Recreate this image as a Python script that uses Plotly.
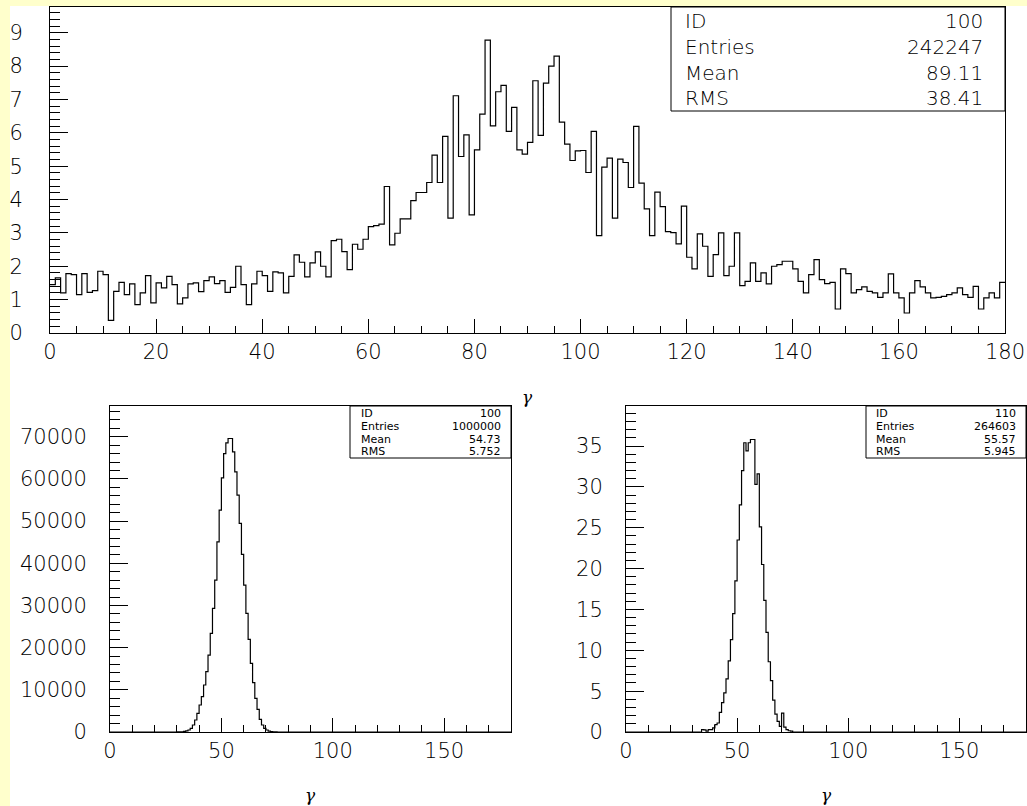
import numpy as np
import plotly.graph_objects as go

W, H = 1027, 806

# ---------------- data ----------------
# Top histogram (ID 100): 180 bins of width 1 on [0, 180]
top_values = [
    1.45, 1.65, 1.20, 1.78, 1.75, 1.15, 1.78, 1.22, 1.27, 1.85,
    1.75, 0.38, 1.25, 1.52, 1.15, 1.47, 0.85, 1.20, 1.72, 0.90,
    1.50, 1.35, 1.70, 1.45, 0.87, 1.05, 1.47, 1.50, 1.24, 1.57,
    1.68, 1.48, 1.57, 1.22, 1.37, 2.00, 1.45, 0.85, 1.47, 1.85,
    1.72, 1.25, 1.83, 1.80, 1.20, 1.70, 2.34, 2.12, 1.68, 2.10,
    2.43, 2.00, 1.68, 2.77, 2.81, 2.44, 1.90, 2.66, 2.51, 2.81,
    3.19, 3.22, 3.26, 4.39, 2.64, 2.99, 3.42, 3.42, 3.97, 4.21,
    4.21, 4.51, 5.33, 4.51, 5.89, 3.44, 7.11, 5.29, 5.94, 3.54,
    5.49, 6.56, 8.78, 6.21, 7.23, 7.42, 6.04, 6.76, 5.49, 5.36,
    5.71, 7.56, 5.92, 7.49, 8.00, 8.30, 6.32, 5.66, 5.17, 5.46,
    5.47, 4.81, 6.04, 2.92, 4.97, 5.24, 3.44, 5.21, 5.11, 4.36,
    6.19, 4.49, 3.72, 2.92, 4.22, 3.79, 3.04, 3.01, 2.67, 3.80,
    2.27, 1.92, 2.97, 2.60, 1.70, 2.35, 3.00, 1.72, 2.00, 3.00,
    1.42, 1.55, 2.10, 1.55, 1.80, 1.47, 2.00, 2.05, 2.15, 2.15,
    1.92, 1.55, 1.20, 1.75, 2.20, 1.60, 1.48, 1.52, 0.72, 1.92,
    1.78, 1.20, 1.30, 1.38, 1.25, 1.20, 1.07, 1.20, 1.77, 1.20,
    1.05, 0.60, 1.20, 1.57, 1.38, 1.20, 1.05, 1.07, 1.10, 1.15,
    1.20, 1.35, 1.15, 1.07, 1.40, 0.72, 1.05, 1.20, 1.05, 1.52,
]

# Bottom-left histogram (ID 100): non-empty bins starting at bin 30
bl_first_bin = 30
bl_values = [
    20, 40, 60, 130, 250, 470, 870, 1660, 2840, 4420,
    6400, 8370, 11140, 14300, 18250, 23380, 29300, 36020, 45100, 52600,
    60270, 66030, 68560, 69590, 69590, 66430, 61690, 56160, 49450, 42100,
    34830, 28120, 21960, 16270, 11690, 7980, 5370, 3000, 1660, 870,
    470, 230, 110, 50, 20,
]

# Bottom-right histogram (ID 110): non-empty bins starting at bin 34
br_first_bin = 34
br_values = [
    0.30, 0.25, 0.10, 0.30, 0.30, 0.50, 0.90, 1.10, 2.40, 3.60,
    4.80, 6.50, 8.70, 11.30, 14.50, 18.50, 23.50, 27.80, 32.00, 35.40,
    34.40, 35.40, 35.80, 35.80, 30.30, 31.60, 25.10, 20.50, 16.10, 12.20,
    8.60, 6.30, 3.90, 2.20, 1.30, 0.70, 2.30, 0.60, 0.30, 0.15,
    0.10,
]

n_bins = 180
x_lo, x_hi = 0, 180

stats_top = [("ID", "100"), ("Entries", "242247"), ("Mean", "89.11"), ("RMS", "38.41")]
stats_bl = [("ID", "100"), ("Entries", "1000000"), ("Mean", "54.73"), ("RMS", "5.752")]
stats_br = [("ID", "110"), ("Entries", "264603"), ("Mean", "55.57"), ("RMS", "5.945")]

# ---------------- helpers ----------------
def full(first, vals):
    arr = [0.0] * n_bins
    for i, v in enumerate(vals):
        arr[first + i] = v
    return arr

edges = np.linspace(x_lo, x_hi, n_bins + 1)

def step_trace(vals, xa, ya):
    y = list(vals) + [vals[-1]]
    return go.Scatter(x=edges, y=y, mode="lines", line=dict(shape="hv", color="black", width=1.2),
                      xaxis=xa, yaxis=ya, showlegend=False, hoverinfo="skip")

def px(x):
    return x / W

def py(y):
    return 1 - y / H

FONT = "DejaVu Sans"

def tfont(size, weight=200):
    return dict(family=FONT, size=size, color="black", weight=weight)

fig = go.Figure()
fig.add_trace(step_trace(top_values, "x", "y"))
fig.add_trace(step_trace(full(bl_first_bin, bl_values), "x2", "y2"))
fig.add_trace(step_trace(full(br_first_bin, br_values), "x3", "y3"))

def xaxis(domain, anchor, dtick, minor, standoff):
    return dict(domain=domain, anchor=anchor, range=[x_lo, x_hi], showline=True, mirror=True,
                linecolor="black", linewidth=1, ticks="inside", ticklen=14, tickcolor="black",
                tick0=0, dtick=dtick, showgrid=False, zeroline=False, automargin=False,
                minor=dict(ticks="inside", ticklen=7, dtick=minor, tickcolor="black", showgrid=False),
                tickfont=tfont(21), ticklabelstandoff=standoff)

def yaxis(domain, anchor, rng, dtick, minor, standoff):
    return dict(domain=domain, anchor=anchor, range=rng, showline=True, mirror=True,
                linecolor="black", linewidth=1, ticks="inside", ticklen=18, tickcolor="black",
                tick0=0, dtick=dtick, showgrid=False, zeroline=False, automargin=False,
                tickformat="d",
                minor=dict(ticks="inside", ticklen=10, dtick=minor, tickcolor="black", showgrid=False),
                tickfont=tfont(21), ticklabelstandoff=standoff)

top_x = [px(50), px(1005)]
top_y = [py(333), py(7)]
bl_x = [px(110), px(511)]
br_x = [px(626), px(1026)]
bot_y = [py(732), py(406)]

fig.update_layout(
    width=W, height=H,
    margin=dict(l=0, r=0, t=0, b=0, autoexpand=False),
    paper_bgcolor="#ffffcc",
    plot_bgcolor="white",
    xaxis=xaxis(top_x, "y", 20, 5, 0),
    yaxis=yaxis(top_y, "x", [0, 9.77], 1, 0.2, 22),
    xaxis2=xaxis(bl_x, "y2", 50, 10, 0),
    yaxis2=yaxis(bot_y, "x2", [0, 77300], 10000, 2000, 18),
    xaxis3=xaxis(br_x, "y3", 50, 10, 0),
    yaxis3=yaxis(bot_y, "x3", [0, 39.9], 5, 1, 18),
)

# white page with yellow strips on the left and top
fig.add_shape(type="rect", xref="paper", yref="paper", x0=px(10), x1=1.01, y0=-0.01, y1=py(6),
              fillcolor="white", line=dict(width=0), layer="below")

def stats_box(x0, x1, y0, y1, rows, row_y, lx, rx, size, weight):
    fig.add_shape(type="rect", xref="paper", yref="paper", x0=px(x0), x1=px(x1), y0=py(y1), y1=py(y0),
                  line=dict(color="black", width=1), fillcolor="white", layer="above")
    for (lab, val), yy in zip(rows, row_y):
        fig.add_annotation(x=px(lx), y=py(yy), xref="paper", yref="paper", text=lab, showarrow=False,
                           xanchor="left", yanchor="middle", font=tfont(size, weight))
        fig.add_annotation(x=px(rx), y=py(yy), xref="paper", yref="paper", text=val, showarrow=False,
                           xanchor="right", yanchor="middle", font=tfont(size, weight))

stats_box(671, 1005, 7, 111, stats_top, [21, 47, 73, 98], 683, 985, 20, 200)
stats_box(350, 511, 406, 458, stats_bl, [413, 426, 439, 452], 359, 503, 11, 400)
stats_box(866, 1026, 406, 458, stats_br, [413, 426, 439, 452], 874, 1018, 11, 400)

for gx, gy in [(527, 397), (310, 795), (826, 795)]:
    fig.add_annotation(x=px(gx), y=py(gy), xref="paper", yref="paper", text="<i>γ</i>", showarrow=False,
                       xanchor="center", yanchor="middle",
                       font=dict(family="DejaVu Serif", size=17, color="black"))

fig.write_html("out.html", config={"displayModeBar": False},
               post_script="document.body.style.margin='0';document.body.style.padding='0';"
                           "document.body.style.overflow='hidden';")
